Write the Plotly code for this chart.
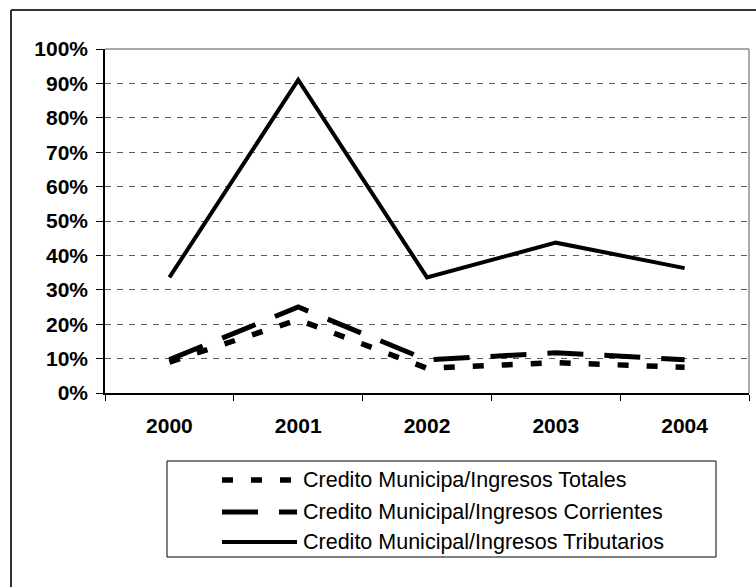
import plotly.graph_objects as go

# Data
years = ["2000", "2001", "2002", "2003", "2004"]
totales = [0.090, 0.213, 0.072, 0.088, 0.075]
corrientes = [0.097, 0.250, 0.096, 0.117, 0.097]
tributarios = [0.336, 0.910, 0.336, 0.437, 0.363]

names = [
    "Credito Municipa/Ingresos Totales",
    "Credito Municipal/Ingresos Corrientes",
    "Credito Municipal/Ingresos Tributarios",
]
styles = [
    dict(dash="11px,18px", width=5.5),
    dict(dash="36px,21px", width=5),
    dict(dash="solid", width=4),
]
series = [totales, corrientes, tributarios]

# Canvas and plot-area geometry (pixels)
W, H = 756, 587
L, R, T, B = 105, 749, 49, 393


def px(x):
    return (x - L) / (R - L)


def py(y):
    return (B - y) / (B - T)


fig = go.Figure()
for vals, name, st in zip(series, names, styles):
    fig.add_trace(go.Scatter(
        x=years, y=vals, name=name, mode="lines",
        line=dict(color="black", width=st["width"], dash=st["dash"]),
        showlegend=False, hoverinfo="skip",
    ))

shapes = []
# outer chart frame (left and top edges)
shapes.append(dict(type="line", xref="paper", yref="paper",
                   x0=px(11), y0=py(10), x1=px(11), y1=py(600),
                   line=dict(color="#333", width=2)))
shapes.append(dict(type="line", xref="paper", yref="paper",
                   x0=px(11), y0=py(10), x1=px(770), y1=py(10),
                   line=dict(color="#333", width=2)))
# plot-area border top and right in gray
shapes.append(dict(type="line", xref="paper", yref="paper",
                   x0=0, y0=1, x1=1, y1=1, layer="above",
                   line=dict(color="#8c8c8c", width=1.5)))
shapes.append(dict(type="line", xref="paper", yref="paper",
                   x0=1, y0=0, x1=1, y1=1, layer="above",
                   line=dict(color="#8c8c8c", width=1.5)))

# legend box
shapes.append(dict(type="rect", xref="paper", yref="paper",
                   x0=px(167), y0=py(461), x1=px(716), y1=py(557),
                   line=dict(color="black", width=1), fillcolor="white"))

annotations = []
row_y = [480, 512, 542]
for name, st, ry in zip(names, styles, row_y):
    shapes.append(dict(type="line", xref="paper", yref="paper",
                       x0=px(222), y0=py(ry), x1=px(297), y1=py(ry),
                       line=dict(color="black", width=st["width"], dash=st["dash"])))
    annotations.append(dict(xref="paper", yref="paper", x=px(301), y=py(ry),
                            text=name, showarrow=False, xanchor="left", yanchor="middle",
                            font=dict(family="Liberation Sans", size=21.5, color="black")))

fig.update_layout(
    width=W, height=H,
    margin=dict(l=L, r=W - R, t=T, b=H - B),
    paper_bgcolor="white", plot_bgcolor="white",
    shapes=shapes, annotations=annotations,
    showlegend=False,
)
fig.update_xaxes(
    type="category", range=[-0.5, 4.5], tickson="boundaries",
    ticks="outside", ticklen=6, tickcolor="black", tickwidth=1,
    showline=True, linecolor="black", linewidth=1.5,
    showgrid=False, zeroline=False,
    tickfont=dict(family="Liberation Sans", size=21, color="black", weight="bold"),
    ticklabelstandoff=13,
)
fig.update_yaxes(
    range=[0, 1], dtick=0.1, tick0=0, tickformat=".0%",
    ticks="outside", ticklen=7, tickcolor="black", tickwidth=1,
    showline=True, linecolor="black", linewidth=1.5,
    showgrid=True, gridcolor="#5a5a5a", gridwidth=1, griddash="6px,6px",
    zeroline=False,
    tickfont=dict(family="Liberation Sans", size=21, color="black", weight="bold"),
    ticklabelstandoff=4,
)

fig.write_html("out.html")
